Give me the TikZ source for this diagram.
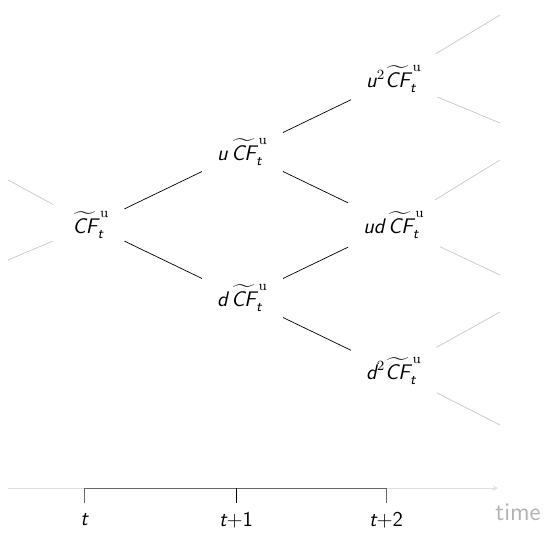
\documentclass[tikz,border=0pt]{standalone}
\usepackage{amsmath}
\usetikzlibrary{positioning}
\newcommand{\sv}[1]{\text{\sffamily\itshape #1}}
\newcommand{\cfu}{\widetilde{\sv{CF}}_{\sv{t}}^{\,\textrm{u}}}
\begin{document}
\begin{tikzpicture}[node distance=1.46cm and 3.03cm, on grid, >=stealth,
  every node/.style={font=\large},
  edge/.style={shorten <=0.2cm, shorten >=0.2cm},
  stub/.style={black!22},
  axis/.style={black!13},
  span/.style={black!60}]
\useasboundingbox (0,0) rectangle (10.92,10.70);

% binomial tree
\node (root) at (1.82,6.2) {$\cfu$};
\node[above right=of root] (u) {$\sv{u}\,\cfu$};
\node[below right=of root] (d) {$\sv{d}\,\cfu$};
\node[above right=of u] (uu) {$\sv{u}^2\cfu$};
\node[below right=of u] (ud) {$\sv{ud}\,\cfu$};
\node[below right=of d] (dd) {$\sv{d}^2\cfu$};

\draw[edge] (root) -- (u);
\draw[edge] (root) -- (d);
\draw[edge] (u) -- (uu);
\draw[edge] (u) -- (ud);
\draw[edge] (d) -- (ud);
\draw[edge] (d) -- (dd);

% faded branches in and out
\coordinate (in1) at (0.16,7.10);
\coordinate (in2) at (0.16,5.50);
\coordinate (out1) at (10.0,10.40);
\coordinate (out2) at (10.0,8.24);
\coordinate (out3) at (10.0,7.50);
\coordinate (out4) at (10.0,5.20);
\coordinate (out5) at (10.0,4.46);
\coordinate (out6) at (10.0,2.20);
\draw[stub, shorten >=0.3cm] (in1) -- (root);
\draw[stub, shorten >=0.3cm] (in2) -- (root);
\draw[stub, shorten <=0.2cm] (uu) -- (out1);
\draw[stub, shorten <=0.2cm] (uu) -- (out2);
\draw[stub, shorten <=0.2cm] (ud) -- (out3);
\draw[stub, shorten <=0.2cm] (ud) -- (out4);
\draw[stub, shorten <=0.2cm] (dd) -- (out5);
\draw[stub, shorten <=0.2cm] (dd) -- (out6);

% time axis
\coordinate (tl) at (0.16,0.94);
\coordinate (tr) at (9.96,0.94);
\draw[axis, ->] (tl) -- (tr);
\node (t0) at (1.68,0.30) {$\sv{t}$};
\node (t1) at (4.72,0.30) {$\sv{t}{+}\textsf{1}$};
\node (t2) at (7.72,0.30) {$\sv{t}{+}\textsf{2}$};
\draw[span] ([yshift=-0.3cm]t0 |- tl) -- (t0 |- tl) -- (t2 |- tl) -- ++(0,-0.3);
\draw (t1 |- tl) -- ++(0,-0.3);
\node[black!30, font=\sffamily\Large] (time) at (10.36,0.46) {time};
\end{tikzpicture}
\end{document}
